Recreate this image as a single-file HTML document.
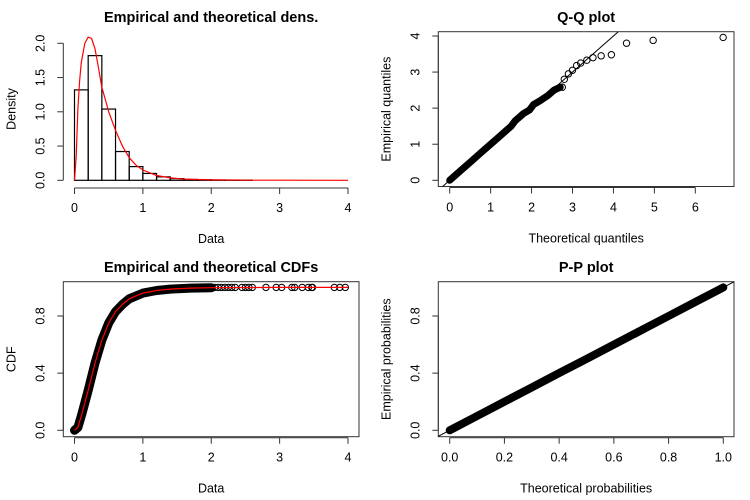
<!DOCTYPE html>
<html><head><meta charset="utf-8"><style>
html,body{margin:0;padding:0;background:#fff;}
svg{display:block;font-family:"Liberation Sans",Arial,sans-serif;}
</style></head><body>
<svg id="c" width="750" height="500" viewBox="0 0 750 500"></svg>
<script>
// ---- data ----
const histBreaks = [0,0.2,0.4,0.6,0.8,1.0,1.2,1.4,1.6,1.8,2.0,2.2,2.4,2.6];
const histDensity = [1.32,1.82,1.04,0.42,0.20,0.10,0.05,0.025,0.012,0.008,0.005,0.004,0.003];
const densX = [0,0.025,0.05,0.075,0.1,0.15,0.2,0.25,0.3,0.35,0.4,0.45,0.5,0.6,0.7,0.8,0.9,1.0,1.2,1.4,1.6,2.0,2.5,3.0,4.0];
const densY = [0,0.35,1.05,1.45,1.72,2.0,2.09,2.07,1.92,1.65,1.36,1.18,1.0,0.73,0.5,0.33,0.22,0.15,0.07,0.035,0.018,0.006,0.002,0.001,0];
const qqBandTheo = [0,0.25,0.5,0.75,1.0,1.25,1.5,1.6,1.7,1.8,1.95,2.05,2.2,2.4,2.55,2.7];
const qqBandEmp  = [0,0.25,0.5,0.75,1.0,1.25,1.5,1.65,1.75,1.85,1.95,2.1,2.2,2.35,2.5,2.58];
const qqTailTheo = [2.75,2.8,2.9,3.0,3.1,3.2,3.35,3.5,3.7,3.95,4.32,4.97,6.68];
const qqTailEmp  = [2.58,2.8,2.95,3.05,3.18,3.25,3.33,3.4,3.45,3.48,3.8,3.88,3.96];
const cdfX = [0,0.05,0.1,0.15,0.2,0.3,0.4,0.5,0.6,0.7,0.8,1.0,1.2,1.4,1.7,2.0,3.0,4.0];
const cdfF = [0,0.02,0.1,0.19,0.28,0.47,0.63,0.75,0.83,0.88,0.92,0.96,0.978,0.988,0.995,0.998,1,1];
const cdfTailX = [2.0,2.05,2.1,2.15,2.2,2.25,2.3,2.35,2.45,2.5,2.55,2.6,2.8,2.95,3.03,3.18,3.22,3.33,3.42,3.47,3.48,3.8,3.88,3.96];
const ppTheo = [0,0.1,0.2,0.3,0.4,0.5,0.6,0.7,0.8,0.9,1.0];
const ppEmp  = [0,0.1,0.2,0.3,0.4,0.5,0.6,0.7,0.8,0.9,1.0];
const xTicks4 = [0,1,2,3,4];
const densTicks = [0,0.5,1.0,1.5,2.0];
const qqXTicks = [0,1,2,3,4,5,6];
const qqYTicks = [0,1,2,3,4];
const probTicks = [0,0.4,0.8];
const ppXTicks = [0,0.2,0.4,0.6,0.8,1.0];

const svg = document.getElementById('c');
const NS = 'http://www.w3.org/2000/svg';
function mk(tag, attrs, parent){const e=document.createElementNS(NS,tag);for(const k in attrs)e.setAttribute(k,attrs[k]);(parent||svg).appendChild(e);return e;}
function lin(d0,d1,r0,r1){return v=>r0+(v-d0)*(r1-r0)/(d1-d0);}
function txt(s,x,y,opt,parent){const t=mk('text',Object.assign({x:x,y:y,'text-anchor':'middle','font-size':12.5,fill:'#000'},opt||{}),parent);t.textContent=s;return t;}

function panel(name,o){
  const g=mk('g',{});
  
  
  const t=txt(o.title,(o.bx0+o.bx1)/2,o.titleY,{'font-size':14.5,'font-weight':'bold'},g);
  
  
  if(o.box){const r=mk('rect',{x:o.bx0,y:o.by0,width:o.bx1-o.bx0,height:o.by1-o.by0,fill:'none',stroke:'#333','stroke-width':1},g);
    }
  const xa=mk('g',{},g);
  
  
  const xt=o.xTicks, ay=o.by1+1;
  mk('line',{x1:o.sx(xt[0]),x2:o.sx(xt[xt.length-1]),y1:ay,y2:ay,stroke:'#333'},xa);
  xt.forEach(v=>{mk('line',{x1:o.sx(v),x2:o.sx(v),y1:ay,y2:ay+6,stroke:'#333'},xa);
    txt(o.xFmt?o.xFmt(v):String(v),o.sx(v),ay+24,{},xa);});
  const xl=txt(o.xLabel,(o.bx0+o.bx1)/2,o.by1+56,{},g);
  
  const ya=mk('g',{},g);
  
  
  const yt=o.yTicks, ax=o.bx0;
  mk('line',{x1:ax,x2:ax,y1:o.sy(yt[0]),y2:o.sy(yt[yt.length-1]),stroke:'#333'},ya);
  yt.forEach(v=>{mk('line',{x1:ax,x2:ax-6,y1:o.sy(v),y2:o.sy(v),stroke:'#333'},ya);
    const yy=o.sy(v), xx=ax-19;
    txt(o.yFmt?o.yFmt(v):String(v),xx,yy,{transform:`rotate(-90 ${xx} ${yy})`},ya);});
  const yx=o.bx0-48, yy=(o.by0+o.by1)/2;
  const yl=txt(o.yLabel,yx,yy,{transform:`rotate(-90 ${yx} ${yy})`},g);
  
  return g;
}
function path(xs,ys,sx,sy){return xs.map((v,i)=>(i?'L':'M')+sx(v).toFixed(1)+','+sy(ys[i]).toFixed(1)).join('');}
function clip(id,x0,y0,x1,y1){const cp=mk('clipPath',{id:id});mk('rect',{x:x0,y:y0,width:x1-x0,height:y1-y0},cp);}

// ---- Panel 1: density ----
{
  const sx=lin(0,4,74.5,348), sy=lin(0,2,180.3,43.3);
  const g=panel('density-panel',{title:'Empirical and theoretical dens.',titleY:22,bx0:63.3,bx1:359,by0:31,by1:187,box:false,sx:sx,sy:sy,
    xTicks:xTicks4,yTicks:densTicks,xLabel:'Data',yLabel:'Density',yFmt:v=>v.toFixed(1)});
  histDensity.forEach((d,i)=>{
    const r=mk('rect',{x:sx(histBreaks[i]),y:sy(d),width:sx(histBreaks[i+1])-sx(histBreaks[i]),height:sy(0)-sy(d),fill:'none',stroke:'#000','stroke-width':1.2},g);
    
    
  });
  const p=mk('path',{d:path(densX,densY,sx,sy),fill:'none',stroke:'#f00','stroke-width':1.2},g);
  
  
}
// ---- Panel 2: QQ ----
{
  const sx=lin(0,6,449.7,695.3), sy=lin(0,4,180.3,36);
  const g=panel('qq-panel',{title:'Q-Q plot',titleY:22,bx0:438.3,bx1:734,by0:31.7,by1:186.5,box:true,sx:sx,sy:sy,
    xTicks:qqXTicks,yTicks:qqYTicks,xLabel:'Theoretical quantiles',yLabel:'Empirical quantiles'});
  clip('qqclip',438.3,31.7,734,186.5);
  const l=mk('line',{x1:sx(-1),y1:sy(-1),x2:sx(5),y2:sy(5),stroke:'#000','stroke-width':1,'clip-path':'url(#qqclip)'},g);
  
  
  const b=mk('path',{d:path(qqBandTheo,qqBandEmp,sx,sy),fill:'none',stroke:'#000','stroke-width':7,'stroke-linecap':'round'},g);
  
  
  qqTailTheo.forEach((v,i)=>{
    const c=mk('circle',{cx:sx(v),cy:sy(qqTailEmp[i]),r:3.2,fill:'none',stroke:'#000','stroke-width':1},g);
    
    
  });
}
// ---- Panel 3: CDF ----
{
  const sx=lin(0,4,74.5,348), sy=lin(0,1,430.3,287.4);
  const g=panel('cdf-panel',{title:'Empirical and theoretical CDFs',titleY:272,bx0:63.3,bx1:359,by0:281.7,by1:436.7,box:true,sx:sx,sy:sy,
    xTicks:xTicks4,yTicks:probTicks,xLabel:'Data',yLabel:'CDF',yFmt:v=>v.toFixed(1)});
  const b=mk('path',{d:path(cdfX.slice(0,16),cdfF.slice(0,16),sx,sy),fill:'none',stroke:'#000','stroke-width':9,'stroke-linecap':'round','stroke-linejoin':'round'},g);
  
  
  cdfTailX.forEach(v=>{
    const c=mk('circle',{cx:sx(v),cy:sy(1),r:3.2,fill:'none',stroke:'#000','stroke-width':1},g);
    
    
  });
  const p=mk('path',{d:path(cdfX,cdfF,sx,sy),fill:'none',stroke:'#f00','stroke-width':1.2},g);
  
  
}
// ---- Panel 4: PP ----
{
  const sx=lin(0,1,449.7,723.3), sy=lin(0,1,430.3,287.4);
  const g=panel('pp-panel',{title:'P-P plot',titleY:272,bx0:438.3,bx1:734,by0:281.7,by1:436.7,box:true,sx:sx,sy:sy,
    xTicks:ppXTicks,yTicks:probTicks,xLabel:'Theoretical probabilities',yLabel:'Empirical probabilities',xFmt:v=>v.toFixed(1),yFmt:v=>v.toFixed(1)});
  clip('ppclip',438.3,281.7,734,436.7);
  const l=mk('line',{x1:sx(-0.2),y1:sy(-0.2),x2:sx(1.2),y2:sy(1.2),stroke:'#000','stroke-width':1,'clip-path':'url(#ppclip)'},g);
  
  
  const b=mk('path',{d:path(ppTheo,ppEmp,sx,sy),fill:'none',stroke:'#000','stroke-width':8,'stroke-linecap':'round'},g);
  
  
}
</script>
</body></html>
